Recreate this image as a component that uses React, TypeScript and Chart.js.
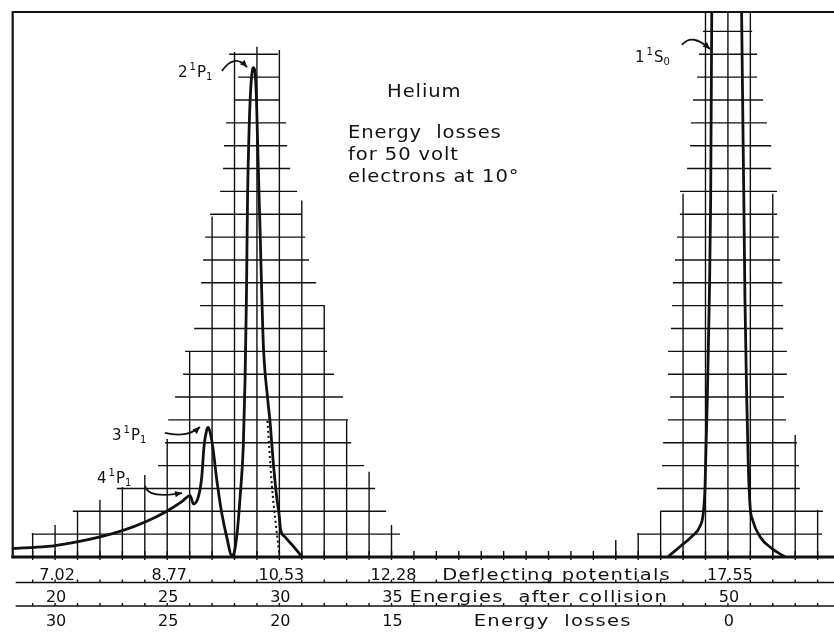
import React, { useEffect, useRef } from 'react';
import { Chart, registerables } from 'chart.js';

Chart.register(...registerables);

// x: energy after collision (volts), y: intensity in grid squares
const X_MIN = 18.11;
const X_MAX = 54.73;
const Y_MAX = 23.85;

const TICK_ENERGIES = [20, 25, 30, 35, 50];
const DEFLECTING_LABELS = ['7.02', '8.77', '10.53', '12.28', '17.55'];
const COLLISION_LABELS = ['20', '25', '30', '35', '50'];
const LOSS_LABELS = ['30', '25', '20', '15', '0'];
const MINOR_TICK_FIRST = 19;
const MINOR_TICK_LAST = 54;

// main curve: 4¹P₁, 3¹P₁ and 2¹P₁
const LEFT_CURVE_E = [18.11, 19.03, 20.0, 20.97, 22.01, 22.97, 24.04, 24.94, 25.65, 26.02, 26.17, 26.39, 26.54, 26.64, 26.76, 26.82, 26.91, 27.03, 27.21, 27.43, 27.65, 27.88, 27.98, 28.13, 28.25, 28.39, 28.47, 28.53, 28.58, 28.65, 28.72, 28.8, 28.85, 28.92, 28.98, 29.05, 29.14, 29.21, 29.29, 29.47, 29.59, 29.73, 29.88, 30.0, 30.05, 30.25, 30.57, 31.0];
const LEFT_CURVE_I = [0.37, 0.42, 0.5, 0.66, 0.88, 1.14, 1.54, 1.98, 2.42, 2.69, 2.32, 2.64, 3.51, 4.83, 5.56, 5.67, 5.47, 4.83, 3.37, 1.93, 0.89, 0.07, 0.18, 1.18, 2.63, 4.81, 7.75, 11.25, 15.62, 18.69, 20.44, 21.31, 21.42, 21.18, 20.0, 17.37, 14.31, 11.68, 9.19, 7.0, 5.86, 4.11, 2.63, 1.75, 1.23, 0.88, 0.53, 0.02];

// dotted extrapolation of the 2¹P₁ peak
const DOTTED_E = [29.47, 29.67, 29.82, 30.0];
const DOTTED_I = [5.95, 3.08, 1.62, 0.1];

// 1¹S₀ elastic peak (goes off scale)
const S0_LEFT_E = [47.33, 47.86, 48.38, 48.75, 48.9, 48.98, 49.02, 49.08, 49.17, 49.23, 49.28, 49.3];
const S0_LEFT_I = [0.01, 0.45, 0.89, 1.33, 1.91, 3.08, 4.68, 6.87, 11.25, 15.62, 23.85, 25.0];
const S0_RIGHT_E = [50.6, 50.61, 50.71, 50.76, 50.84, 50.91, 50.99, 51.1, 51.43, 51.95, 52.54];
const S0_RIGHT_I = [25.0, 23.85, 15.62, 11.25, 6.87, 3.95, 2.2, 1.62, 0.89, 0.38, 0.01];

// grid paper: horizontal rulings (level 1, 2, ...) start/end energies
const LEFT_H_START = [18.96, 20.79, 22.75, 24.59, 24.9, 25.04, 25.35, 25.71, 25.8, 26.2, 26.46, 26.51, 26.6, 26.69, 26.91, 27.36, 27.49, 27.53, 27.62, 28.02, 28.16, 27.76];
const LEFT_H_END = [35.38, 34.76, 34.27, 33.78, 33.2, 33.06, 32.84, 32.44, 32.13, 32.04, 31.99, 31.64, 31.32, 31.15, 31.01, 30.79, 30.48, 30.35, 30.3, 30.03, 30.03, 29.94];
const RIGHT_H_START = [45.95, 46.98, 46.84, 47.06, 47.11, 47.33, 47.42, 47.33, 47.33, 47.46, 47.51, 47.55, 47.64, 47.73, 47.86, 47.86, 48.18, 48.31, 48.35, 48.44, 48.62, 48.71, 48.89];
const RIGHT_H_END = [54.2, 54.24, 53.21, 53.17, 53.08, 52.59, 52.5, 52.63, 52.63, 52.46, 52.46, 52.42, 52.33, 52.28, 52.19, 52.19, 51.93, 51.93, 51.74, 51.57, 51.3, 51.3, 51.08];
// vertical rulings: energy and top
const LEFT_V_E = [19, 20, 21, 22, 23, 24, 25, 26, 27, 28, 29, 30, 31, 32, 33, 34, 35];
const LEFT_V_TOP = [1.05, 1.4, 1.97, 2.5, 3.06, 3.59, 5.16, 8.98, 14.9, 22.1, 22.33, 22.19, 15.6, 11.03, 6.0, 3.73, 1.4];
const RIGHT_V_E = [45, 46, 47, 48, 49, 50, 51, 52, 53, 54];
const RIGHT_V_TOP = [0.74, 1.05, 1.98, 15.9, 24, 24, 24, 15.9, 5.34, 2.06];

// peak labels: [main, sup, main, sub], anchor (E, I), arrow start/control/end
const PEAK_LABELS = [
  { parts: ['2', '1', 'P', '1'], at: [25.48, 20.99], arrow: [[27.44, 21.27], [27.98, 22.05], [28.56, 21.44]] },
  { parts: ['1', '1', 'S', '0'], at: [45.86, 21.68], arrow: [[47.95, 22.41], [48.4, 22.95], [49.2, 22.23]] },
  { parts: ['3', '1', 'P', '1'], at: [22.54, 5.12], arrow: [[24.9, 5.43], [25.9, 5.2], [26.46, 5.69]] },
  { parts: ['4', '1', 'P', '1'], at: [21.87, 3.24], arrow: [[24.01, 3.11], [24.15, 2.55], [25.66, 2.8]] },
];

const NOTE_LINES = ['Helium', 'Energy  losses', 'for 50 volt', 'electrons at 10°'];
const NOTE_X = [34.8, 33.06, 33.06, 33.06];
const NOTE_Y = [20.13, 18.34, 17.37, 16.41];

const ROW_TITLES = ['Deflecting potentials', 'Energies  after collision', 'Energy  losses'];
const ROW_TITLE_E = [37.26, 35.8, 38.67];

const FONT = "'DejaVu Sans', sans-serif";

const pts = (xs: number[], ys: number[]) => xs.map((x, i) => ({ x, y: ys[i] }));

// draws text stretched horizontally, like wide hand lettering
const wideText = (ctx: any, text: string, x: number, y: number, sx: number, spacing: number) => {
  ctx.save();
  ctx.translate(x, y);
  ctx.scale(sx, 1);
  ctx.letterSpacing = `${spacing}px`;
  ctx.fillText(text, 0, 0);
  ctx.restore();
};

const paperPlugin = {
  id: 'paper',
  beforeDraw(chart: any) {
    const { ctx, width, height } = chart;
    ctx.save();
    ctx.fillStyle = '#fff';
    ctx.fillRect(0, 0, width, height);
    ctx.restore();
  },
  beforeDatasetsDraw(chart: any) {
    const { ctx, chartArea: ca } = chart;
    const xs = chart.scales.x;
    const ys = chart.scales.y;
    const X = (v: number) => xs.getPixelForValue(v);
    const Y = (v: number) => ys.getPixelForValue(v);
    const line = (x1: number, y1: number, x2: number, y2: number) => {
      ctx.beginPath();
      ctx.moveTo(x1, y1);
      ctx.lineTo(x2, y2);
      ctx.stroke();
    };
    ctx.save();
    ctx.strokeStyle = '#111';
    ctx.lineWidth = 1.4;
    LEFT_H_START.forEach((s, i) => line(X(s), Y(i + 1), X(LEFT_H_END[i]), Y(i + 1)));
    RIGHT_H_START.forEach((s, i) => line(X(s), Y(i + 1), X(RIGHT_H_END[i]), Y(i + 1)));
    LEFT_V_E.forEach((e, i) => line(X(e), ca.bottom, X(e), Math.max(ca.top, Y(LEFT_V_TOP[i]))));
    RIGHT_V_E.forEach((e, i) => line(X(e), ca.bottom, X(e), Math.max(ca.top, Y(RIGHT_V_TOP[i]))));

    const row2 = ca.bottom + 25.5;
    const row3 = ca.bottom + 49;
    for (let e = MINOR_TICK_FIRST; e <= MINOR_TICK_LAST; e++) {
      const px = X(e);
      line(px, ca.bottom + 3, px, ca.bottom - 6);
      line(px, row2, px, row2 - 3);
      line(px, row3, px, row3 - 3);
    }
    ctx.lineWidth = 1.6;
    line(ca.left + 3, row2, ca.right, row2);
    line(ca.left + 3, row3, ca.right, row3);

    ctx.lineWidth = 2.2;
    line(ca.left - 1, ca.top, ca.right, ca.top);
    line(ca.left, ca.top, ca.left, ca.bottom);
    ctx.lineWidth = 3;
    line(ca.left - 1.5, ca.bottom, ca.right, ca.bottom);

    // bottom rows of labels
    ctx.fillStyle = '#111';
    ctx.textBaseline = 'alphabetic';
    ctx.font = `16px ${FONT}`;
    ctx.textAlign = 'center';
    (ctx as any).letterSpacing = '0px';
    TICK_ENERGIES.forEach((e, i) => {
      ctx.fillText(DEFLECTING_LABELS[i], X(e) + 2, ca.bottom + 23);
      ctx.fillText(COLLISION_LABELS[i], X(e) + 1, ca.bottom + 45);
      ctx.fillText(LOSS_LABELS[i], X(e) + 1, ca.bottom + 69);
    });
    ctx.textAlign = 'left';
    wideText(ctx, ROW_TITLES[0], X(ROW_TITLE_E[0]), ca.bottom + 23, 1.22, 1);
    wideText(ctx, ROW_TITLES[1], X(ROW_TITLE_E[1]), ca.bottom + 45, 1.22, 1);
    wideText(ctx, ROW_TITLES[2], X(ROW_TITLE_E[2]), ca.bottom + 69, 1.22, 1);
    ctx.restore();
  },
  afterDatasetsDraw(chart: any) {
    const { ctx } = chart;
    const xs = chart.scales.x;
    const ys = chart.scales.y;
    const X = (v: number) => xs.getPixelForValue(v);
    const Y = (v: number) => ys.getPixelForValue(v);
    ctx.save();
    ctx.fillStyle = '#111';
    ctx.strokeStyle = '#111';
    ctx.textAlign = 'left';
    ctx.textBaseline = 'alphabetic';

    // notes
    ctx.font = `17px ${FONT}`;
    NOTE_LINES.forEach((t, i) => wideText(ctx, t, X(NOTE_X[i]), Y(NOTE_Y[i]), 1.15, 0.8));

    // peak labels and arrows
    PEAK_LABELS.forEach((p) => {
      let px = X(p.at[0]);
      const py = Y(p.at[1]);
      ctx.font = `15px ${FONT}`;
      ctx.fillText(p.parts[0], px, py);
      px += ctx.measureText(p.parts[0]).width + 2;
      ctx.font = `10px ${FONT}`;
      ctx.fillText(p.parts[1], px, py - 7);
      px += ctx.measureText(p.parts[1]).width + 1;
      ctx.font = `15px ${FONT}`;
      ctx.fillText(p.parts[2], px, py);
      px += ctx.measureText(p.parts[2]).width;
      ctx.font = `10px ${FONT}`;
      ctx.fillText(p.parts[3], px, py + 3);

      const [s, c, e] = p.arrow.map(([a, b]) => [X(a), Y(b)]);
      ctx.lineWidth = 1.8;
      ctx.beginPath();
      ctx.moveTo(s[0], s[1]);
      ctx.quadraticCurveTo(c[0], c[1], e[0], e[1]);
      ctx.stroke();
      const ang = Math.atan2(e[1] - c[1], e[0] - c[0]);
      const L = 7;
      const W = 3.2;
      ctx.beginPath();
      ctx.moveTo(e[0], e[1]);
      ctx.lineTo(e[0] - L * Math.cos(ang) + W * Math.sin(ang), e[1] - L * Math.sin(ang) - W * Math.cos(ang));
      ctx.lineTo(e[0] - L * Math.cos(ang) - W * Math.sin(ang), e[1] - L * Math.sin(ang) + W * Math.cos(ang));
      ctx.closePath();
      ctx.fill();
    });
    ctx.restore();
  },
};

export default function App() {
  const ref = useRef<HTMLCanvasElement | null>(null);
  useEffect(() => {
    if (!ref.current) return;
    const solid = { showLine: true, borderColor: '#111', borderWidth: 2.8, pointRadius: 0, fill: false, cubicInterpolationMode: 'monotone' as const };
    const chart = new Chart(ref.current, {
      type: 'scatter',
      data: {
        datasets: [
          { ...solid, data: pts(LEFT_CURVE_E, LEFT_CURVE_I) },
          { ...solid, data: pts(S0_LEFT_E, S0_LEFT_I) },
          { ...solid, data: pts(S0_RIGHT_E, S0_RIGHT_I) },
          { ...solid, borderWidth: 2, borderDash: [2, 3], data: pts(DOTTED_E, DOTTED_I) },
        ],
      },
      options: {
        responsive: false,
        animation: false,
        events: [],
        layout: { padding: { left: 12.7, top: 12, right: 0, bottom: 75 } },
        scales: {
          x: { type: 'linear', min: X_MIN, max: X_MAX, display: false },
          y: { type: 'linear', min: 0, max: Y_MAX, display: false },
        },
        plugins: { legend: { display: false }, tooltip: { enabled: false } },
      },
      plugins: [paperPlugin],
    } as any);
    return () => chart.destroy();
  }, []);
  return (
    <div style={{ position: 'fixed', left: 0, top: 0, width: 834, height: 632, background: '#fff' }}>
      <canvas ref={ref} width={834} height={632} style={{ display: 'block' }} />
    </div>
  );
}
